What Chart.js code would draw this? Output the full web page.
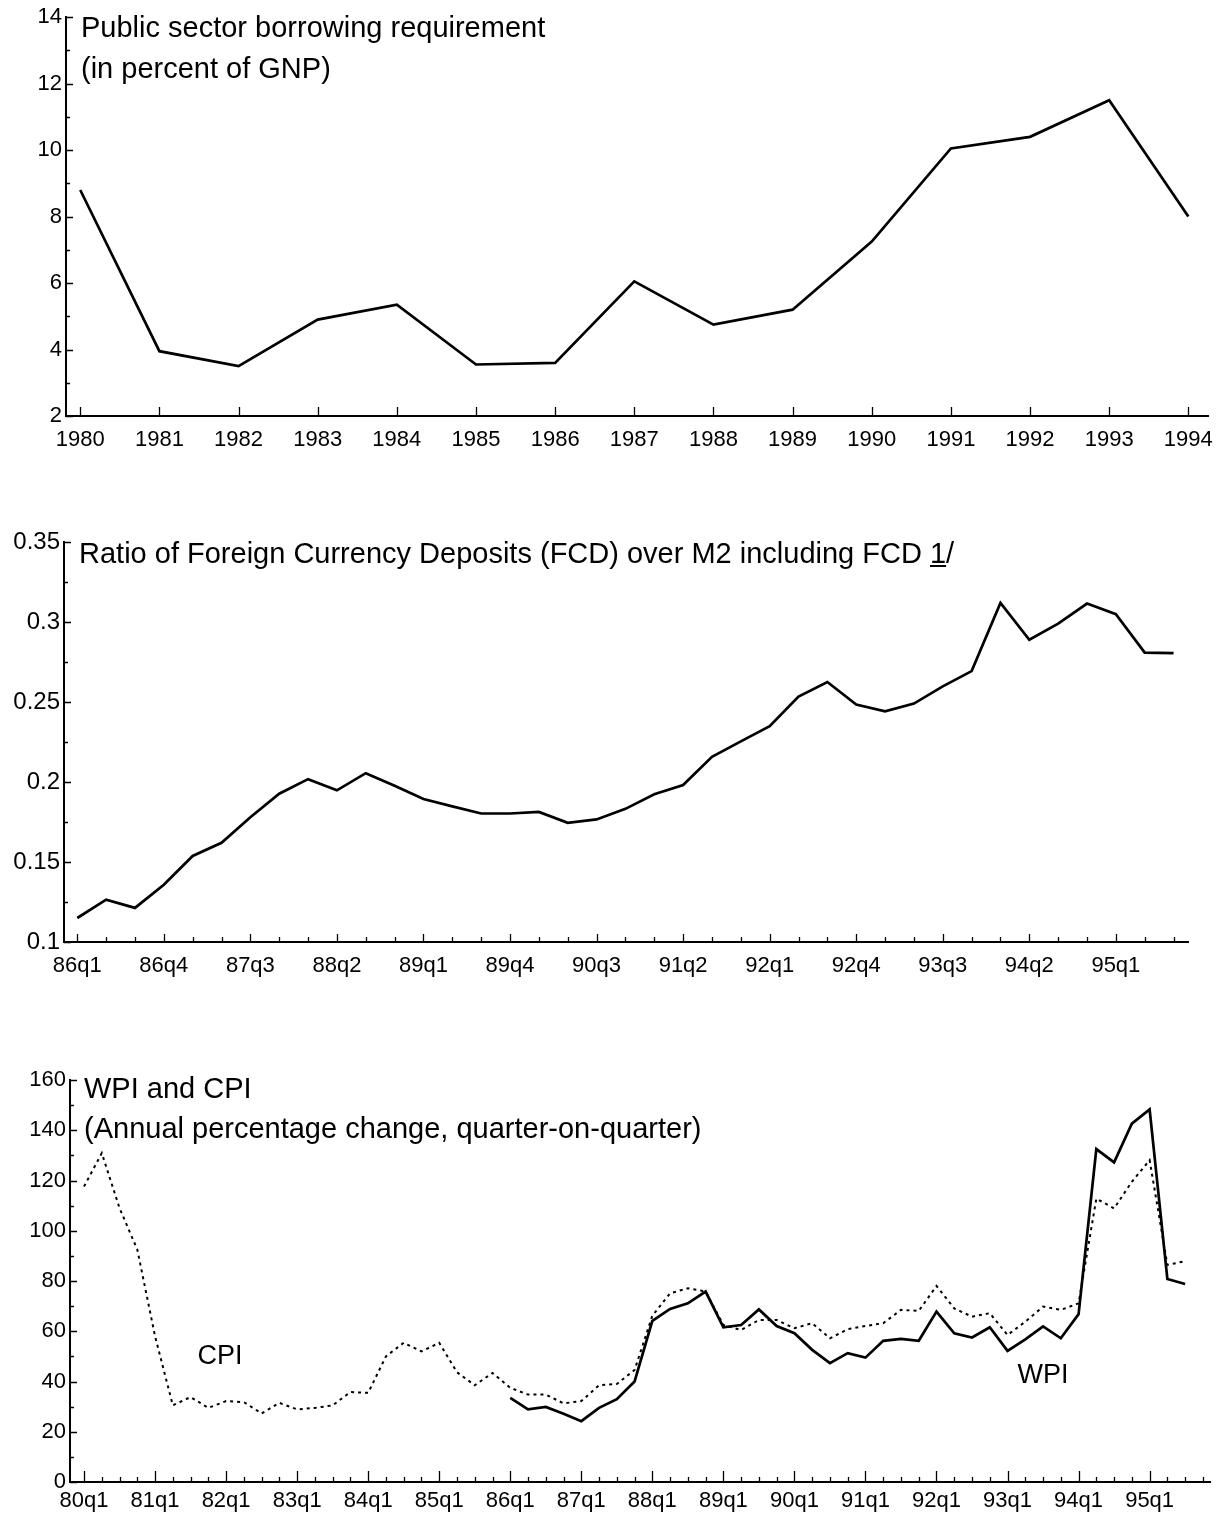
<!DOCTYPE html>
<html><head><meta charset="utf-8">
<script src="https://cdn.jsdelivr.net/npm/chart.js@4.4.1/dist/chart.umd.min.js"></script>
<style>
html,body{margin:0;padding:0;background:#fff;}
body{width:1224px;height:1515px;position:relative;overflow:hidden;font-family:"Liberation Sans",Arial,sans-serif;}
.box{position:absolute;left:0;width:1224px;}
.title{position:absolute;font-size:29px;line-height:41px;color:#000;white-space:nowrap;}
</style></head><body>
<div class="box" style="top:0;height:470px"><canvas id="c1"></canvas></div>
<div class="box" style="top:500px;height:500px"><canvas id="c2"></canvas></div>
<div class="box" style="top:1040px;height:475px"><canvas id="c3"></canvas></div>
<div class="title" style="left:81px;top:7px">Public sector borrowing requirement<br>(in percent of GNP)</div>
<div class="title" style="left:79px;top:533px">Ratio of Foreign Currency Deposits (FCD) over M2 including FCD <u>1</u>/</div>
<div class="title" style="left:84px;top:1068px;line-height:40px">WPI and CPI<br>(Annual percentage change, quarter-on-quarter)</div>
<script>
// ---------- Chart 1: Public sector borrowing requirement ----------
const psbrYears = [1980,1981,1982,1983,1984,1985,1986,1987,1988,1989,1990,1991,1992,1993,1994];
const psbrValues = [8.8,3.95,3.5,4.9,5.35,3.55,3.6,6.05,4.75,5.2,7.25,10.05,10.4,11.5,8.0];
const psbrYTicks = [2,4,6,8,10,12,14];

// ---------- Chart 2: FCD ratio ----------
const fcdQuarters = ['86q1','86q2','86q3','86q4','87q1','87q2','87q3','87q4','88q1','88q2','88q3','88q4',
 '89q1','89q2','89q3','89q4','90q1','90q2','90q3','90q4','91q1','91q2','91q3','91q4','92q1','92q2','92q3','92q4',
 '93q1','93q2','93q3','93q4','94q1','94q2','94q3','94q4','95q1','95q2','95q3'];
const fcdValues = [0.115,0.1265,0.1213,0.1358,0.1538,0.162,0.178,0.1927,0.2018,0.1948,0.2055,0.1977,
 0.1894,0.1848,0.1803,0.1803,0.1813,0.1745,0.1766,0.1832,0.1923,0.1981,0.2157,0.2254,0.2349,0.2534,0.2625,0.2484,
 0.2442,0.249,0.2598,0.2693,0.3119,0.2889,0.299,0.3115,0.3049,0.2809,0.2805];
const fcdYTicks = [0.1,0.15,0.2,0.25,0.3,0.35];
const fcdXLabelIdx = [0,3,6,9,12,15,18,21,24,27,30,33,36];

// ---------- Chart 3: WPI and CPI ----------
const priceQuarters = ['80q1','80q2','80q3','80q4','81q1','81q2','81q3','81q4','82q1','82q2','82q3','82q4',
 '83q1','83q2','83q3','83q4','84q1','84q2','84q3','84q4','85q1','85q2','85q3','85q4',
 '86q1','86q2','86q3','86q4','87q1','87q2','87q3','87q4','88q1','88q2','88q3','88q4',
 '89q1','89q2','89q3','89q4','90q1','90q2','90q3','90q4','91q1','91q2','91q3','91q4',
 '92q1','92q2','92q3','92q4','93q1','93q2','93q3','93q4','94q1','94q2','94q3','94q4','95q1','95q2','95q3'];
const cpiValues = [117.6,130.9,109,92.5,58,30.5,33.8,29.5,32.2,31.8,27.3,31.5,
 28.9,29.5,30.5,35.8,35.5,50,55.4,52,55.4,43.7,38.5,43.4,
 37.5,34.8,34.8,31.3,32.2,38.5,39,44.6,66.2,75.1,77.1,75.8,
 62.5,60.5,64.5,64.5,61.2,63.2,57.2,60.8,62.1,63.2,68.5,68.1,
 78,69.1,65.8,67.2,58.5,63.8,69.8,68.5,71.1,112.8,108.9,119.5,128.1,86.4,87.9];
const wpiValues = [null,null,null,null,null,null,null,null,null,null,null,null,
 null,null,null,null,null,null,null,null,null,null,null,null,
 33.5,28.9,29.9,27.2,24.2,29.5,33,40,64.1,68.9,71.1,75.8,
 61.6,62.5,68.7,62.1,59.2,52.6,47.3,51.3,49.5,56.2,57,56.2,
 67.8,59.2,57.5,61.6,52.2,56.8,61.9,57.2,66.8,132.5,127.2,142.6,148.3,80.8,78.8];
const priceYTicks = [0,20,40,60,80,100,120,140,160];
const priceXLabelIdx = [0,4,8,12,16,20,24,28,32,36,40,44,48,52,56,60];
const seriesNotes = [{text:'CPI', x:7.65, y:49.8},{text:'WPI', x:54, y:42.5}];

const FONT = '"Liberation Sans", Arial, sans-serif';

const tickPlugin = {
  id: 'innerTicks',
  afterDraw(chart, args, o) {
    const {ctx, chartArea: a, scales: {x, y}} = chart;
    ctx.save();
    ctx.strokeStyle = '#000';
    ctx.lineWidth = 1.3;
    ctx.beginPath();
    (o.xMajor || []).forEach(v => { const px = Math.round(x.getPixelForValue(v)) + 0.5; ctx.moveTo(px, a.bottom); ctx.lineTo(px, a.bottom - (o.xMajorLen || 9)); });
    (o.xMinor || []).forEach(v => { const px = Math.round(x.getPixelForValue(v)) + 0.5; ctx.moveTo(px, a.bottom); ctx.lineTo(px, a.bottom - 5); });
    (o.yMajor || []).forEach(v => { const py = Math.round(y.getPixelForValue(v)) + 0.5; ctx.moveTo(a.left, py); ctx.lineTo(a.left + 7, py); });
    (o.yMinor || []).forEach(v => { const py = Math.round(y.getPixelForValue(v)) + 0.5; ctx.moveTo(a.left, py); ctx.lineTo(a.left + 4, py); });
    ctx.stroke();
    (o.notes || []).forEach(n => {
      ctx.fillStyle = '#000';
      ctx.font = '27px ' + FONT;
      ctx.textAlign = 'center';
      ctx.textBaseline = 'middle';
      ctx.fillText(n.text, x.getPixelForValue(n.x), y.getPixelForValue(n.y));
    });
    ctx.restore();
  }
};

function axisCfg(opts) {
  return {
    type: 'linear', min: opts.min, max: opts.max,
    afterBuildTicks: s => { s.ticks = opts.ticks.map(v => ({value: v})); },
    afterFit: s => { if (opts.w !== undefined) s.width = opts.w; if (opts.h !== undefined) s.height = opts.h; },
    grid: {display: false, drawTicks: false},
    border: {display: true, color: '#000', width: 2},
    ticks: {color: '#000', font: {family: FONT, size: opts.fs || 22}, padding: opts.pad, autoSkip: false, maxRotation: 0, callback: opts.cb}
  };
}

function build(id, datasets, xo, yo, pad, pluginOpts) {
  new Chart(document.getElementById(id), {
    type: 'line',
    data: {datasets},
    options: {
      responsive: true, maintainAspectRatio: false, animation: false,
      layout: {padding: pad},
      plugins: {legend: {display: false}, tooltip: {enabled: false}, innerTicks: pluginOpts},
      elements: {point: {radius: 0}, line: {tension: 0}},
      scales: {x: axisCfg(xo), y: axisCfg(yo)}
    },
    plugins: [tickPlugin]
  });
}

function seq(a, b, s) { const r = []; for (let v = a; v <= b + 1e-9; v += s) r.push(+v.toFixed(4)); return r; }

// Chart 1
build('c1',
  [{data: psbrYears.map((yr, i) => ({x: yr, y: psbrValues[i]})), borderColor: '#000', borderWidth: 2.7}],
  {min: 1979.82, max: 1994.25, ticks: psbrYears, h: 54, pad: 11, cb: v => String(v)},
  {min: 2, max: 14, ticks: psbrYTicks, w: 66, pad: 4, cb: v => String(v)},
  {top: 15, right: 11, left: 0, bottom: 0},
  {xMajor: psbrYears, yMajor: psbrYTicks, yMinor: seq(3, 13, 2)}
);

// Chart 2
build('c2',
  [{data: fcdValues.map((v, i) => ({x: i, y: v})), borderColor: '#000', borderWidth: 2.7}],
  {min: -0.46, max: 38.5, ticks: fcdXLabelIdx, h: 58, pad: 11, cb: v => fcdQuarters[v]},
  {min: 0.1, max: 0.35, ticks: fcdYTicks, w: 64, pad: 4, fs: 24, cb: v => String(+v.toFixed(2))},
  {top: 42, right: 36, left: 0, bottom: 0},
  {xMajor: fcdXLabelIdx, xMajorLen: 8, xMinor: seq(0, 38, 1), yMajor: fcdYTicks, yMinor: seq(0.125, 0.325, 0.05)}
);

// Chart 3
build('c3',
  [{data: cpiValues.map((v, i) => ({x: i, y: v})), borderColor: '#000', borderWidth: 2, borderDash: [3, 4]},
   {data: wpiValues.map((v, i) => ({x: i, y: v})), borderColor: '#000', borderWidth: 2.7, spanGaps: false}],
  {min: -0.79, max: 63.4, ticks: priceXLabelIdx, h: 33, pad: 6, cb: v => priceQuarters[v]},
  {min: 0, max: 160, ticks: priceYTicks, w: 70, pad: 4, cb: v => String(v)},
  {top: 40, right: 14, left: 0, bottom: 0},
  {xMajor: priceXLabelIdx, xMajorLen: 11, xMinor: seq(0, 63, 1), yMajor: priceYTicks, yMinor: seq(10, 150, 20), notes: seriesNotes}
);
</script>
</body></html>
